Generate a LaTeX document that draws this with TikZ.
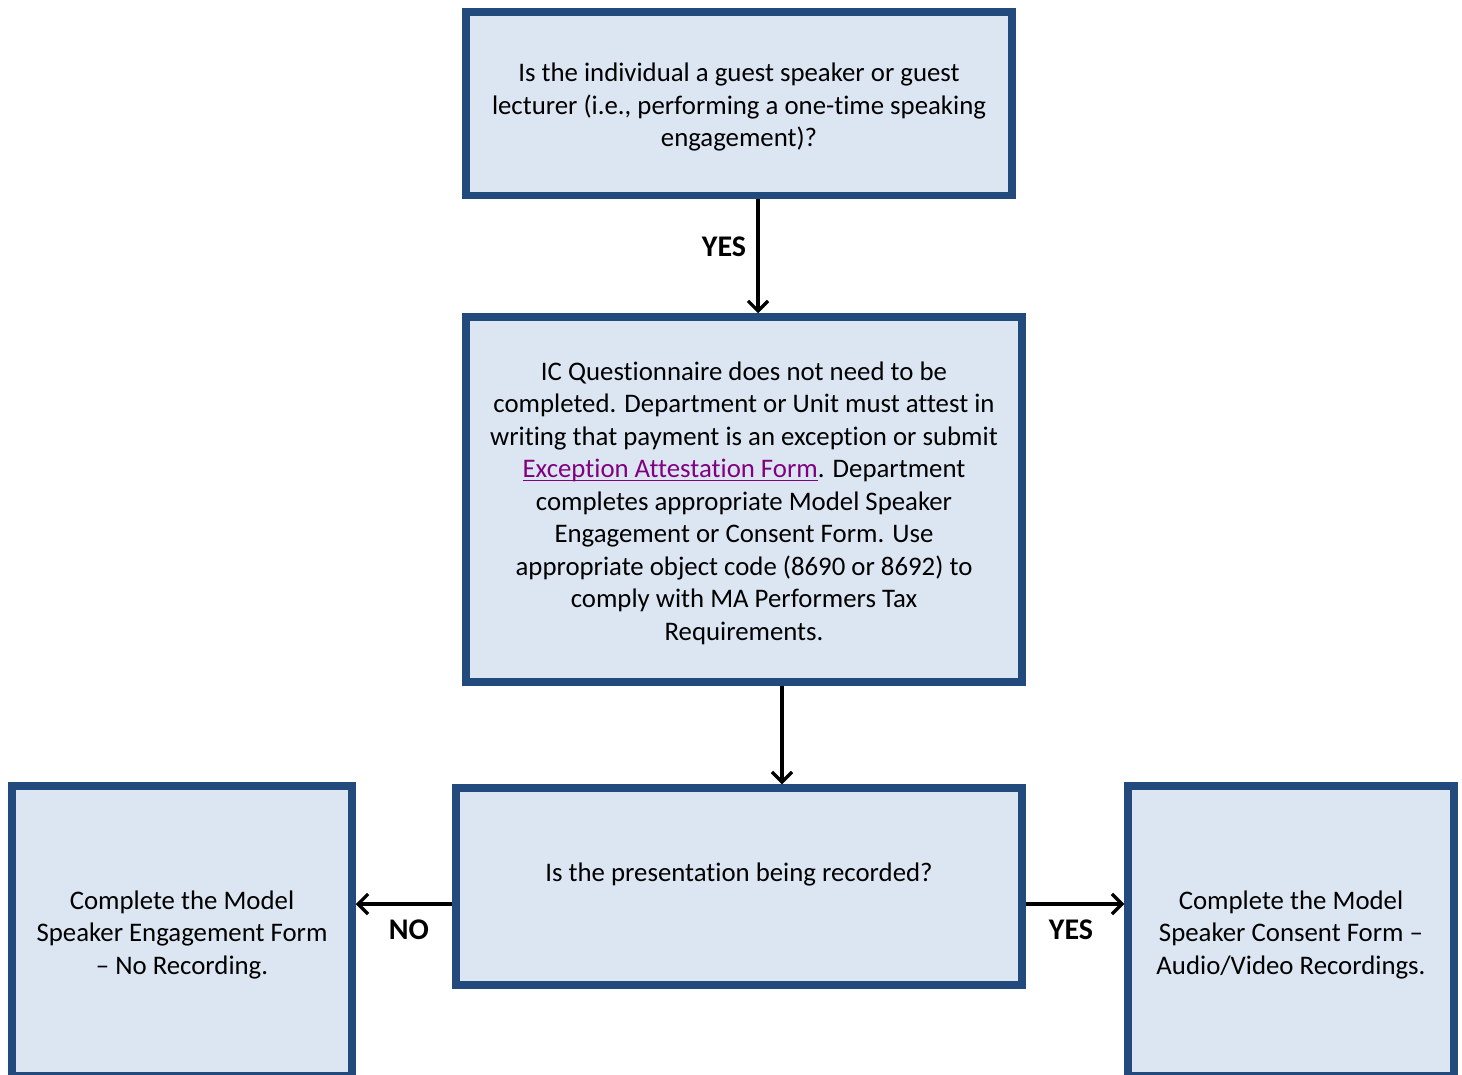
\documentclass[tikz,border=0pt]{standalone}
\usepackage{fontspec}
\setmainfont{Carlito}[Ligatures={TeX,NoCommon}]
\usepackage{tikz}
\usetikzlibrary{positioning,arrows.meta}

\definecolor{boxblue}{RGB}{34,74,124}
\definecolor{boxfill}{RGB}{220,230,242}
\definecolor{linkpurple}{RGB}{128,0,128}

% underlined link text
\newcommand{\linktext}[1]{{\color{linkpurple}\setbox0\hbox{#1}\rlap{\rule[-3.5pt]{\wd0}{1.8pt}}\box0}}
% a little extra room above the first line
\newcommand{\boxstrut}{\rule{0pt}{26pt}}

\tikzset{
  flowbox/.style={draw=boxblue, fill=boxfill, line width=7.5pt, align=center,
    inner sep=0pt, font=\fontsize{26.8}{32.5}\selectfont},
  flowarrow/.style={line width=3.3pt, -{Straight Barb[length=10pt,width=20pt]}},
  answer/.style={font=\fontsize{30}{36}\selectfont\bfseries}
}

\begin{document}
\begin{tikzpicture}[x=1pt, y=-1pt]
  \useasboundingbox (0,0) rectangle (1462,1074);
  \begin{scope}
    \clip (0,0) rectangle (1462,1074);

    % question boxes and outcomes
    \node[flowbox, minimum width=546pt, minimum height=183.5pt] (guest) at (739,103.75)
      {\boxstrut Is the individual a guest speaker or guest\\
       lecturer (i.e., performing a one-time speaking\\
       engagement)?};
    \node[flowbox, minimum width=556pt, minimum height=365pt] (exempt) at (744,499.5)
      {\boxstrut IC Questionnaire does not need to be\\
       completed. Department or Unit must attest in\\
       writing that payment is an exception or submit\\
       \linktext{Exception Attestation Form}. Department\\
       completes appropriate Model Speaker\\
       Engagement or Consent Form. Use\\
       appropriate object code (8690 or 8692) to\\
       comply with MA Performers Tax\\
       Requirements.};
    \node[flowbox, minimum width=566pt, minimum height=197pt, text height=20pt, text depth=31pt]
      (recorded) at (739,886.5) {Is the presentation being recorded?};
    \node[flowbox, minimum width=340pt, minimum height=290pt] (norec) at (182,931)
      {\boxstrut Complete the Model\\
       Speaker Engagement Form\\
       -- No Recording.};
    \node[flowbox, minimum width=326pt, minimum height=290pt] (consent) at (1291,931)
      {\boxstrut Complete the Model\\
       Speaker Consent Form --\\
       Audio/Video Recordings.};

    % connectors
    \draw[flowarrow] ([xshift=19pt]guest.south) -- ([xshift=14pt]exempt.north);
    \draw[flowarrow] ([xshift=38pt]exempt.south) -- ([xshift=43pt]recorded.north);
    \draw[flowarrow] ([yshift=-17.5pt]recorded.west) -- ([yshift=-17.5pt]recorded.west -| norec.east);
    \draw[flowarrow] ([yshift=-17.5pt]recorded.east) -- ([yshift=-17.5pt]recorded.east -| consent.west);

    \node[answer] (yestop) at (724,247) {YES};
    \node[answer] (nolabel) at (409,930) {NO};
    \node[answer] (yesright) at (1071,930) {YES};
  \end{scope}
\end{tikzpicture}
\end{document}
